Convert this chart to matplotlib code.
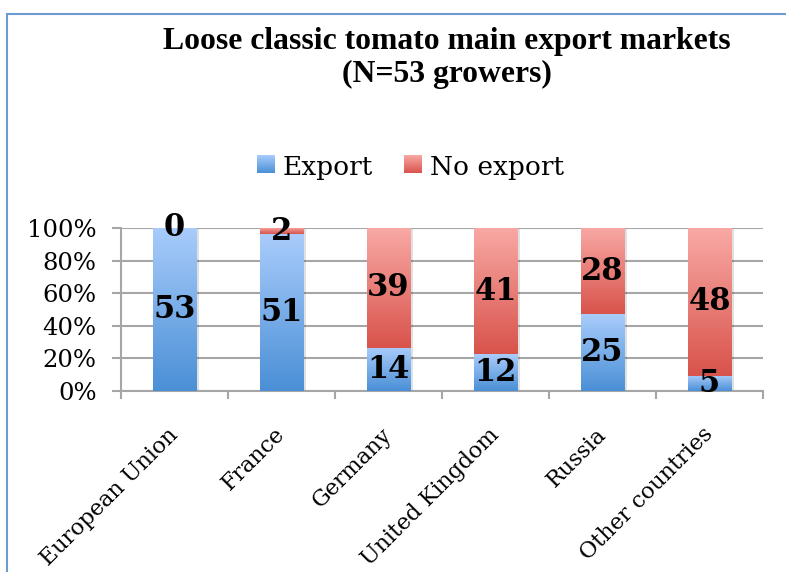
import matplotlib.pyplot as plt
import numpy as np
from matplotlib.patches import Rectangle
from matplotlib.colors import LinearSegmentedColormap

# Data (counts of growers, N=53)
markets = ['European Union', 'France', 'Germany', 'United Kingdom', 'Russia', 'Other countries']
export = [53, 51, 14, 12, 25, 5]
no_export = [0, 2, 39, 41, 28, 48]
total = 53

plt.rcParams['font.family'] = ['DejaVu Serif', 'Liberation Serif']

W, H = 786, 572
fig = plt.figure(figsize=(W / 100, H / 100), dpi=100)
ax = fig.add_axes([121 / W, 1 - 391 / H, (763 - 121) / W, (391 - 228) / H])

# gradient colour maps (top light, bottom dark)
blue_cm = LinearSegmentedColormap.from_list('b', ['#4a8fd6', '#a9ccfb'])
red_cm = LinearSegmentedColormap.from_list('r', ['#d8534b', '#f9a9a5'])
grad = np.linspace(0, 1, 256).reshape(-1, 1)

x = np.arange(len(markets))
width = 0.41
exp_pct = [e / total * 100 for e in export]
no_pct = [n / total * 100 for n in no_export]

for i in x:
    segs = [(0, exp_pct[i], blue_cm), (exp_pct[i], no_pct[i], red_cm)]
    for bottom, h, cm in segs:
        if h <= 0:
            continue
        # soft shadow
        ax.add_patch(Rectangle((i - width / 2 + 0.02, bottom - 0.6), width, h,
                               facecolor='#000000', alpha=0.12, lw=0, zorder=2))
        im = ax.imshow(grad, cmap=cm, origin='lower', aspect='auto',
                       extent=(i - width / 2, i + width / 2, bottom, bottom + h), zorder=3)
        rect = Rectangle((i - width / 2, bottom), width, h, transform=ax.transData)
        im.set_clip_path(rect)

# value labels
for i in x:
    ax.text(i, exp_pct[i] / 2, str(export[i]), ha='center', va='center',
            fontsize=22, fontweight='bold', zorder=5)
    ax.text(i, exp_pct[i] + no_pct[i] / 2, str(no_export[i]), ha='center', va='center',
            fontsize=22, fontweight='bold', zorder=5)

ax.set_xlim(-0.5, len(markets) - 0.5)
ax.set_ylim(0, 100)
ax.set_yticks([0, 20, 40, 60, 80, 100])
ax.set_yticklabels(['0%', '20%', '40%', '60%', '80%', '100%'], fontsize=17.5)
ax.yaxis.grid(True, color='#a6a6a6', lw=1.5, zorder=0)
ax.set_axisbelow(True)

# category boundary ticks
ax.set_xticks(np.arange(-0.5, len(markets), 1))
ax.set_xticklabels([])
ax.set_xticks(x, minor=True)
ax.set_xticklabels(markets, minor=True, rotation=45, ha='right', va='center',
                   rotation_mode='anchor', fontsize=16)
ax.tick_params(axis='x', which='minor', length=0, pad=29)
ax.tick_params(axis='x', which='major', length=6, color='#a6a6a6', width=1.5)
ax.tick_params(axis='y', length=6.5, color='#a6a6a6', width=1.5, pad=11)
for s in ['top', 'right']:
    ax.spines[s].set_visible(False)
for s in ['left', 'bottom']:
    ax.spines[s].set_color('#a6a6a6')
    ax.spines[s].set_linewidth(1.5)

# title
fig.text(447 / W, 1 - 41 / H, 'Loose classic tomato main export markets',
         ha='center', va='center', fontsize=22.8, fontweight='bold',
         family='Liberation Serif')
fig.text(447 / W, 1 - 74 / H, '(N=53 growers)',
         ha='center', va='center', fontsize=22.8, fontweight='bold',
         family='Liberation Serif')

# legend with gradient squares
for left, cm, label in [(257, blue_cm, 'Export'), (404, red_cm, 'No export')]:
    sq = fig.add_axes([left / W, 1 - 173 / H, 18 / W, 18 / H])
    sq.imshow(grad, cmap=cm, origin='lower', aspect='auto')
    sq.set_axis_off()
    fig.text((left + 26) / W, 1 - 168 / H, label, ha='left', va='center', fontsize=19)

# chart border
fig.patches.append(Rectangle((7 / W, -0.1), 1.2, 1 - 14 / H + 0.1,
                             transform=fig.transFigure, fill=False,
                             edgecolor='#6b9bd1', lw=1.5))

fig.savefig('out.png', dpi=100)
